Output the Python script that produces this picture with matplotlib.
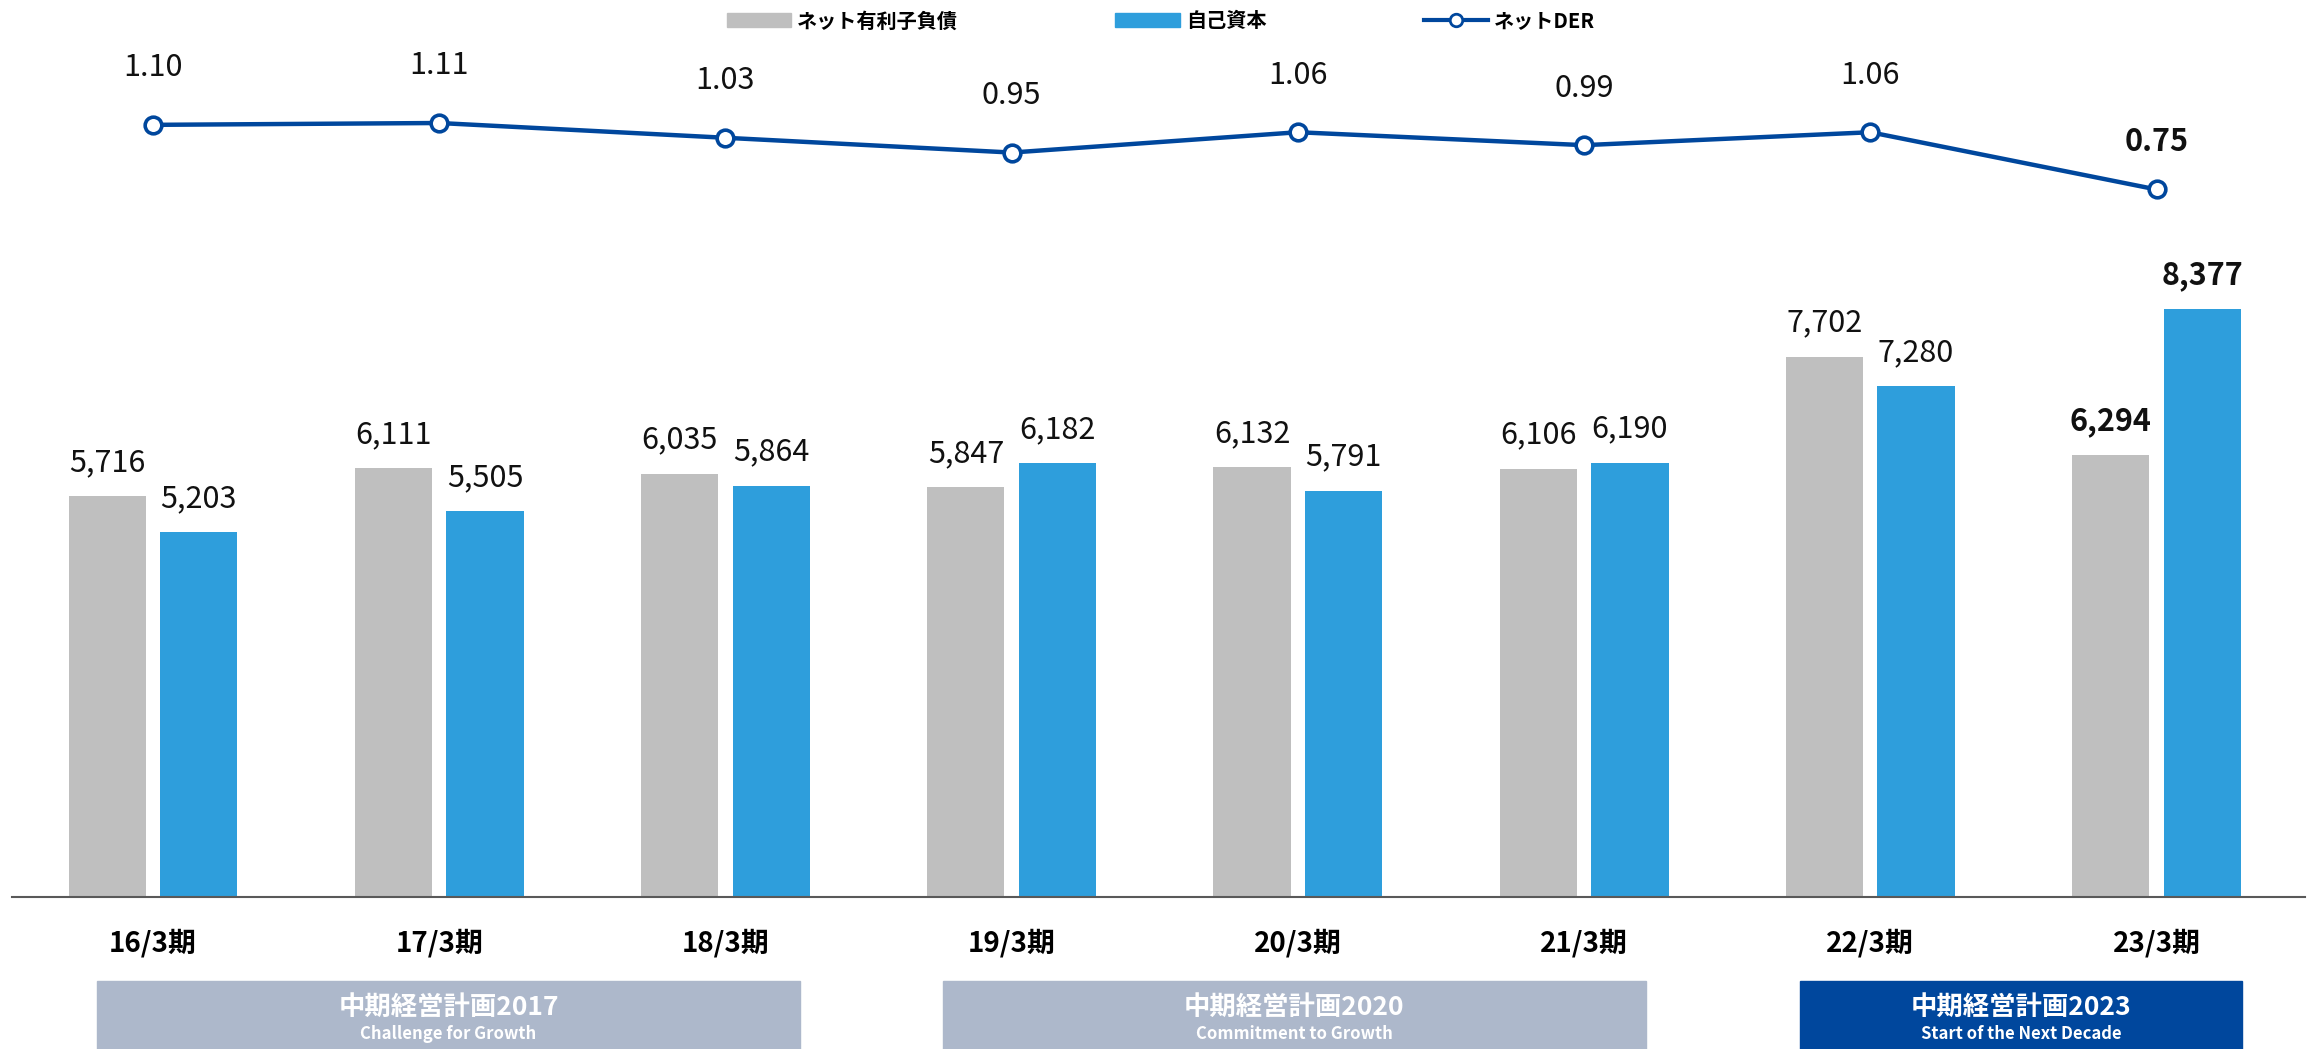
import matplotlib
matplotlib.use("Agg")
import matplotlib.pyplot as plt
from matplotlib.patches import Patch, Rectangle
from matplotlib.lines import Line2D
from matplotlib.transforms import blended_transform_factory

plt.rcParams["font.family"] = ["Noto Sans CJK JP", "DejaVu Sans"]

# ---------------------------------------------------------------------------
# Data
# ---------------------------------------------------------------------------
periods = ["16/3期", "17/3期", "18/3期", "19/3期", "20/3期", "21/3期", "22/3期", "23/3期"]
net_debt = [5716, 6111, 6035, 5847, 6132, 6106, 7702, 6294]
equity = [5203, 5505, 5864, 6182, 5791, 6190, 7280, 8377]
net_der = [1.10, 1.11, 1.03, 0.95, 1.06, 0.99, 1.06, 0.75]

plans = ["中期経営計画2017", "中期経営計画2020", "中期経営計画2023"]
plan_subtitles = ["Challenge for Growth", "Commitment to Growth", "Start of the Next Decade"]

legend_labels = ["ネット有利子負債", "自己資本", "ネットDER"]

# ---------------------------------------------------------------------------
# Styles / layout
# ---------------------------------------------------------------------------
GRAY = "#BFBFBF"
BLUE = "#2E9EDC"
NAVY = "#00479D"
BAND_LIGHT = "#ADB8CB"
plan_spans = [(-0.195, 2.26), (2.76, 5.215), (5.755, 7.30)]
plan_colors = [BAND_LIGHT, BAND_LIGHT, NAVY]

fig = plt.figure(figsize=(23.1, 10.49), dpi=100)
ax = fig.add_axes([0.005, 0.145, 0.993, 0.799])
ax2 = ax.twinx()

x = list(range(len(periods)))
off, w = 0.16, 0.27
last = len(periods) - 1

ax.bar([i - off for i in x], net_debt, width=w, color=GRAY, zorder=2)
ax.bar([i + off for i in x], equity, width=w, color=BLUE, zorder=2)

for i in x:
    bold = "bold" if i == last else "normal"
    ax.annotate(f"{net_debt[i]:,}", (i - off, net_debt[i]), xytext=(0, 18),
                textcoords="offset points", ha="center", va="baseline",
                fontsize=22, fontweight=bold, color="#111111")
    ax.annotate(f"{equity[i]:,}", (i + off, equity[i]), xytext=(0, 18),
                textcoords="offset points", ha="center", va="baseline",
                fontsize=22, fontweight=bold, color="#111111")

ax2.plot(x, net_der, color=NAVY, lw=3.2, marker="o", ms=12,
         mfc="white", mec=NAVY, mew=2.6, zorder=5)
for i in x:
    bold = "bold" if i == last else "normal"
    dy = 28 if i == last else 35
    ax2.annotate(f"{net_der[i]:.2f}", (i, net_der[i]), xytext=(0, dy),
                 textcoords="offset points", ha="center", va="baseline",
                 fontsize=22, fontweight=bold, color="#111111")

ax.set_xlim(-0.494, 7.52)
ax.set_ylim(0, 11950)
ax2.set_ylim(-3.081, 1.458)

for a in (ax, ax2):
    for s in ("top", "left", "right"):
        a.spines[s].set_visible(False)
    a.set_yticks([])
ax2.spines["bottom"].set_visible(False)
ax.spines["bottom"].set_color("#595959")
ax.spines["bottom"].set_linewidth(1.5)

ax.set_xticks(x)
ax.set_xticklabels(periods, fontsize=20, fontweight="bold")
ax.tick_params(axis="x", length=0, pad=23)

# plan bands below the axis
tr = blended_transform_factory(ax.transData, fig.transFigure)
for (x0, x1), name, sub, col in zip(plan_spans, plans, plan_subtitles, plan_colors):
    ax.add_patch(Rectangle((x0, 0.0), x1 - x0, 0.0644, transform=tr,
                           color=col, clip_on=False, zorder=1))
    xc = (x0 + x1) / 2
    ax.text(xc, 0.040, name, transform=tr, ha="center", va="center",
            fontsize=19, fontweight="bold", color="white")
    ax.text(xc, 0.0145, sub, transform=tr, ha="center", va="center",
            fontsize=12, fontweight="bold", color="white")

handles = [Patch(color=GRAY), Patch(color=BLUE),
           Line2D([], [], color=NAVY, lw=3, marker="o", ms=9,
                  mfc="white", mec=NAVY, mew=2)]
fig.legend(handles, legend_labels, loc="center", bbox_to_anchor=(0.5026, 0.98),
           ncol=3, frameon=False, handlelength=3.2, handletextpad=0.3,
           columnspacing=7.8, prop={"size": 14.5, "weight": "bold"})

fig.savefig("out.png", dpi=100)
